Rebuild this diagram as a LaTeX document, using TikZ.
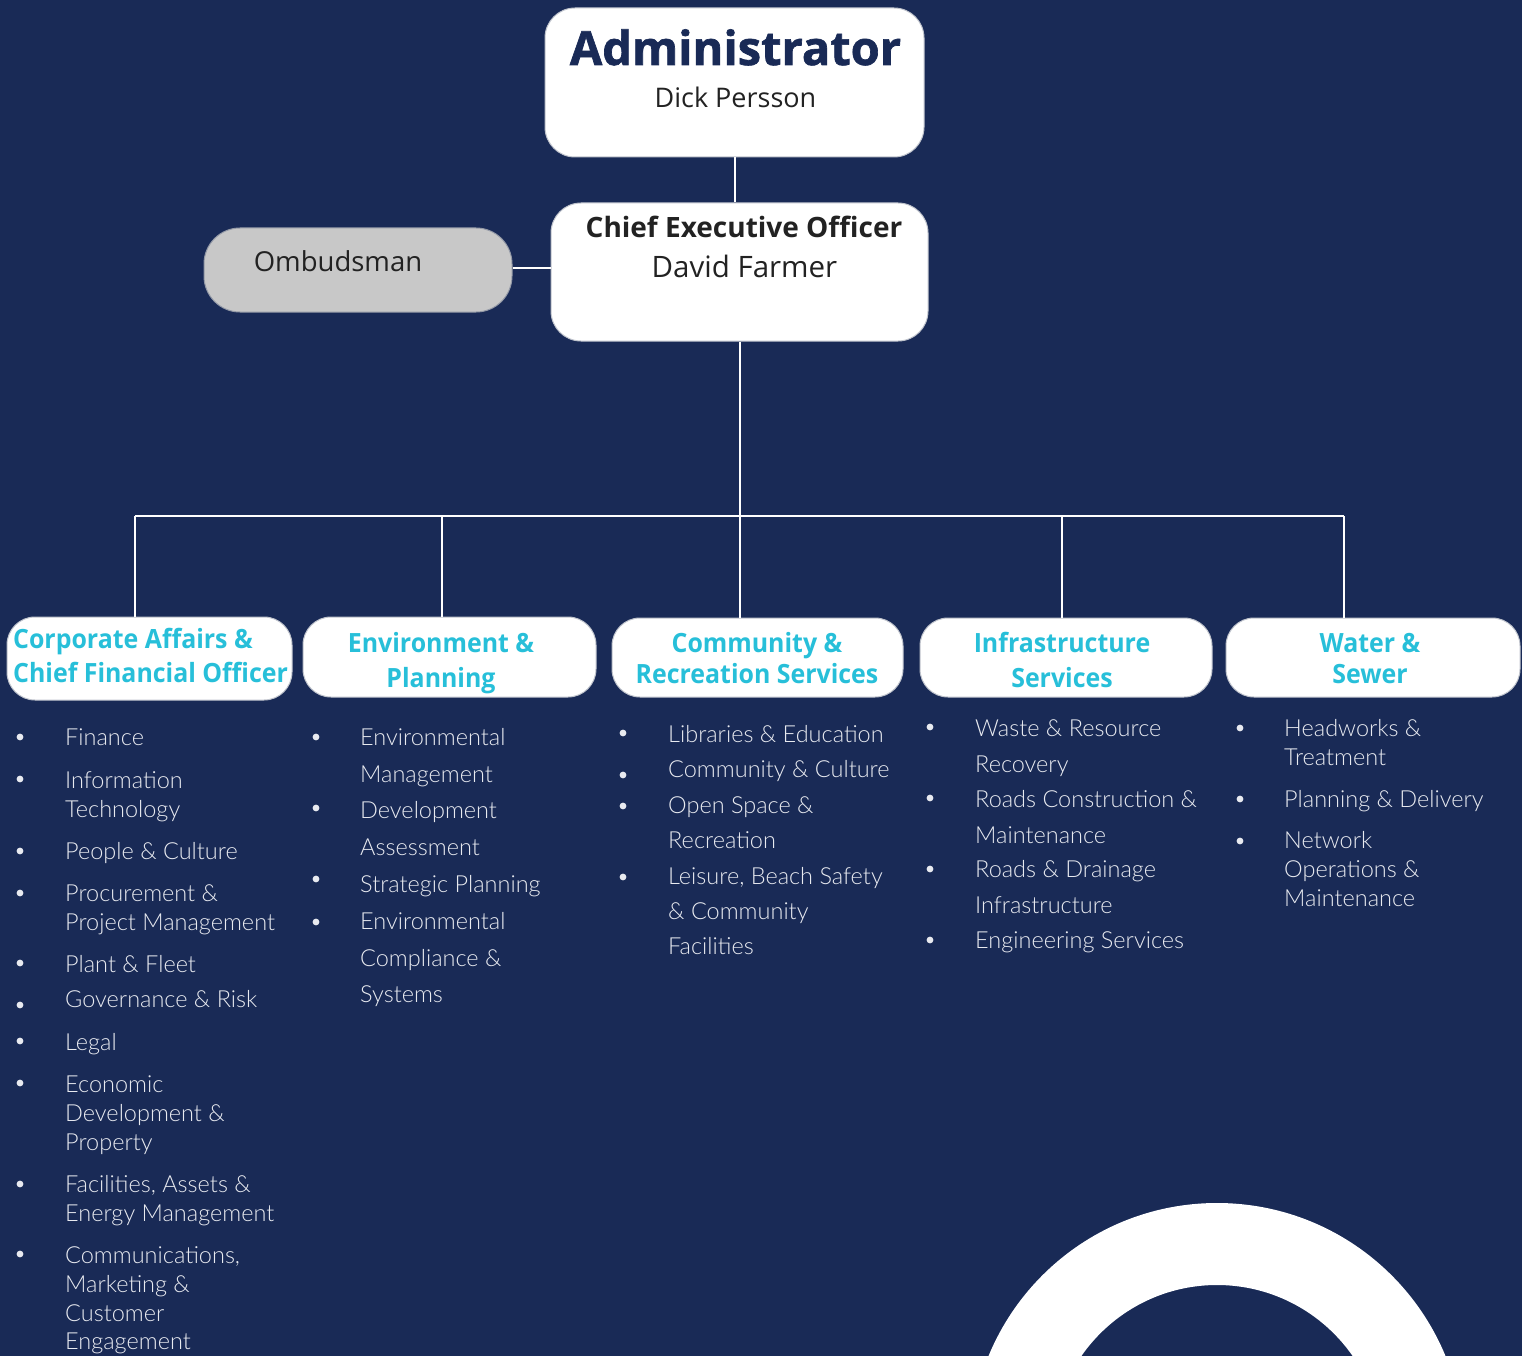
\documentclass[tikz,border=0pt]{standalone}
\usepackage{fontspec}
\setmainfont{Open Sans}
\IfFontExistsTF{Lato Light}{\newfontfamily\listfont{Lato Light}}{\newfontfamily\listfont{Open Sans}[Scale=0.9]}
\newfontfamily\headfont{Open Sans}[FakeStretch=0.94]
\newfontfamily\bigfont{Open Sans Bold}[FakeBold=1.4]
\definecolor{navy}{HTML}{192A56}
\definecolor{deptcyan}{HTML}{27BFD9}
\definecolor{ombgray}{HTML}{C8C8C8}
\definecolor{edgegray}{HTML}{BFC3CC}
\definecolor{listwhite}{HTML}{E8EAF0}
\definecolor{inkdark}{HTML}{222222}

\begin{document}
\begin{tikzpicture}[x=1pt,y=-1pt,
    box/.style={draw=edgegray, line width=1pt, fill=white, rounded corners=28pt, inner sep=0pt},
    link/.style={draw=white, line width=2pt},
    head/.style={text=deptcyan, font=\headfont\fontsize{26.5}{30}\selectfont\bfseries, inner sep=0pt, anchor=base},
    item/.style={text=listwhite, font=\listfont\fontsize{23.5}{28}\selectfont, inner sep=0pt, anchor=base west},
    bul/.style={fill=listwhite}]
    \useasboundingbox (0,0) rectangle (1522,1356);
    \fill[navy] (0,0) rectangle (1522,1356);
    \clip (0,0) rectangle (1522,1356);

    % top of the chart
    \node[box, rounded corners=30pt, minimum width=379pt, minimum height=149pt] (admin) at (734.5,82.5) {};
    \node[text=navy, font=\bigfont\fontsize{47}{50}\selectfont, anchor=base, inner sep=0pt] (admint) at (735.5,65) {Administrator};
    \node[text=inkdark, font=\fontsize{27}{30}\selectfont, anchor=base, inner sep=0pt] (adminn) at (735.5,108) {Dick Persson};

    \node[box, rounded corners=30pt, minimum width=377pt, minimum height=138pt] (ceo) at (739.5,272) {};
    \node[text=inkdark, font=\fontsize{28}{32}\selectfont\bfseries, anchor=base, inner sep=0pt] (ceot) at (744,238) {Chief Executive Officer};
    \node[text=inkdark, font=\fontsize{29.5}{32}\selectfont, anchor=base, inner sep=0pt] (ceon) at (744.5,277) {David Farmer};

    \node[box, fill=ombgray, draw=ombgray!70!navy, rounded corners=36pt, minimum width=308pt, minimum height=84pt] (omb) at (358,270) {};
    \node[text=inkdark, font=\fontsize{27.5}{32}\selectfont, anchor=base, inner sep=0pt] (ombt) at (338,271) {Ombudsman};

    \draw[link] (admin.south -| 735,0) -- (ceo.north -| 735,0);
    \draw[link] (omb.east |- 0,268) -- (ceo.west |- 0,268);

    % departments
    \node[box, minimum width=285pt, minimum height=83pt] (d1) at (149.5,658.5) {};
    \node[box, minimum width=293pt, minimum height=80pt] (d2) at (449.5,657) {};
    \node[box, minimum width=291pt, minimum height=79pt] (d3) at (757.5,657.5) {};
    \node[box, minimum width=292pt, minimum height=79pt] (d4) at (1066,657.5) {};
    \node[box, minimum width=294pt, minimum height=79pt] (d5) at (1373,657.5) {};

    \coordinate (busl) at (135,516);
    \coordinate (busr) at (1344,516);
    \draw[link] (ceo.south -| 740,0) -- (740,516);
    \draw[link] (busl) -- (busr);
    \foreach \n/\xx in {d1/135,d2/442,d3/740,d4/1062,d5/1344}
        \draw[link] (\xx,516) -- (\n.north -| \xx,0);

    \node[head, anchor=base west] (h1a) at (13,648) {Corporate Affairs \&};
    \node[head, anchor=base west] (h1b) at (13,682) {Chief Financial Officer};
    \node[head] (h2a) at (441,652) {Environment \&};
    \node[head] (h2b) at (441,687) {Planning};
    \node[head] (h3a) at (757,652) {Community \&};
    \node[head] (h3b) at (757,683) {Recreation Services};
    \node[head] (h4a) at (1062,652) {Infrastructure};
    \node[head] (h4b) at (1062,687) {Services};
    \node[head] (h5a) at (1370,652) {Water \&};
    \node[head] (h5b) at (1370,683) {Sewer};

    % lists under the departments
    \foreach \yy/\txt [count=\i] in {745/Finance, 788/Information, 817/Technology,
        859/{People \& Culture}, 901/{Procurement \&}, 930/{Project Management},
        972/{Plant \& Fleet}, 1007/{Governance \& Risk}, 1050/Legal, 1092/Economic,
        1121/{Development \&}, 1150/Property, 1192/{Facilities, Assets \&},
        1221/{Energy Management}, 1263/{Communications,}, 1292/{Marketing \&},
        1321/Customer, 1349/Engagement}
        \node[item] (corp-\i) at (65,\yy) {\txt};
    \foreach \yy/\txt [count=\i] in {745/Environmental, 782/Management, 818/Development,
        855/Assessment, 892/{Strategic Planning}, 929/Environmental,
        966/{Compliance \&}, 1002/Systems}
        \node[item] (env-\i) at (360,\yy) {\txt};
    \foreach \yy/\txt [count=\i] in {742/{Libraries \& Education}, 777/{Community \& Culture},
        813/{Open Space \&}, 848/Recreation, 884/{Leisure, Beach Safety},
        919/{\& Community}, 954/Facilities}
        \node[item] (com-\i) at (668,\yy) {\txt};
    \foreach \yy/\txt [count=\i] in {736/{Waste \& Resource}, 772/Recovery,
        807/{Roads Construction \&}, 843/Maintenance, 877/{Roads \& Drainage},
        913/Infrastructure, 948/{Engineering Services}}
        \node[item] (inf-\i) at (975,\yy) {\txt};
    \foreach \yy/\txt [count=\i] in {736/{Headworks \&}, 765/Treatment,
        807/{Planning \& Delivery}, 848/Network, 877/{Operations \&}, 906/Maintenance}
        \node[item] (wat-\i) at (1284,\yy) {\txt};

    \foreach \yy in {737,779,851,893,963,1005,1041,1083,1184,1254}
        \fill[bul] (20,\yy) circle (3.4);
    \foreach \yy in {737,808,879,922}
        \fill[bul] (316,\yy) circle (3.4);
    \foreach \yy in {733,775,806,877}
        \fill[bul] (623,\yy) circle (3.4);
    \foreach \yy in {727,798,869,940}
        \fill[bul] (930,\yy) circle (3.4);
    \foreach \yy in {728,799,841}
        \fill[bul] (1240,\yy) circle (3.4);

    % ring in the corner
    \fill[white, even odd rule] (1217,1450) circle (247) (1217,1450) circle (165);
\end{tikzpicture}
\end{document}
